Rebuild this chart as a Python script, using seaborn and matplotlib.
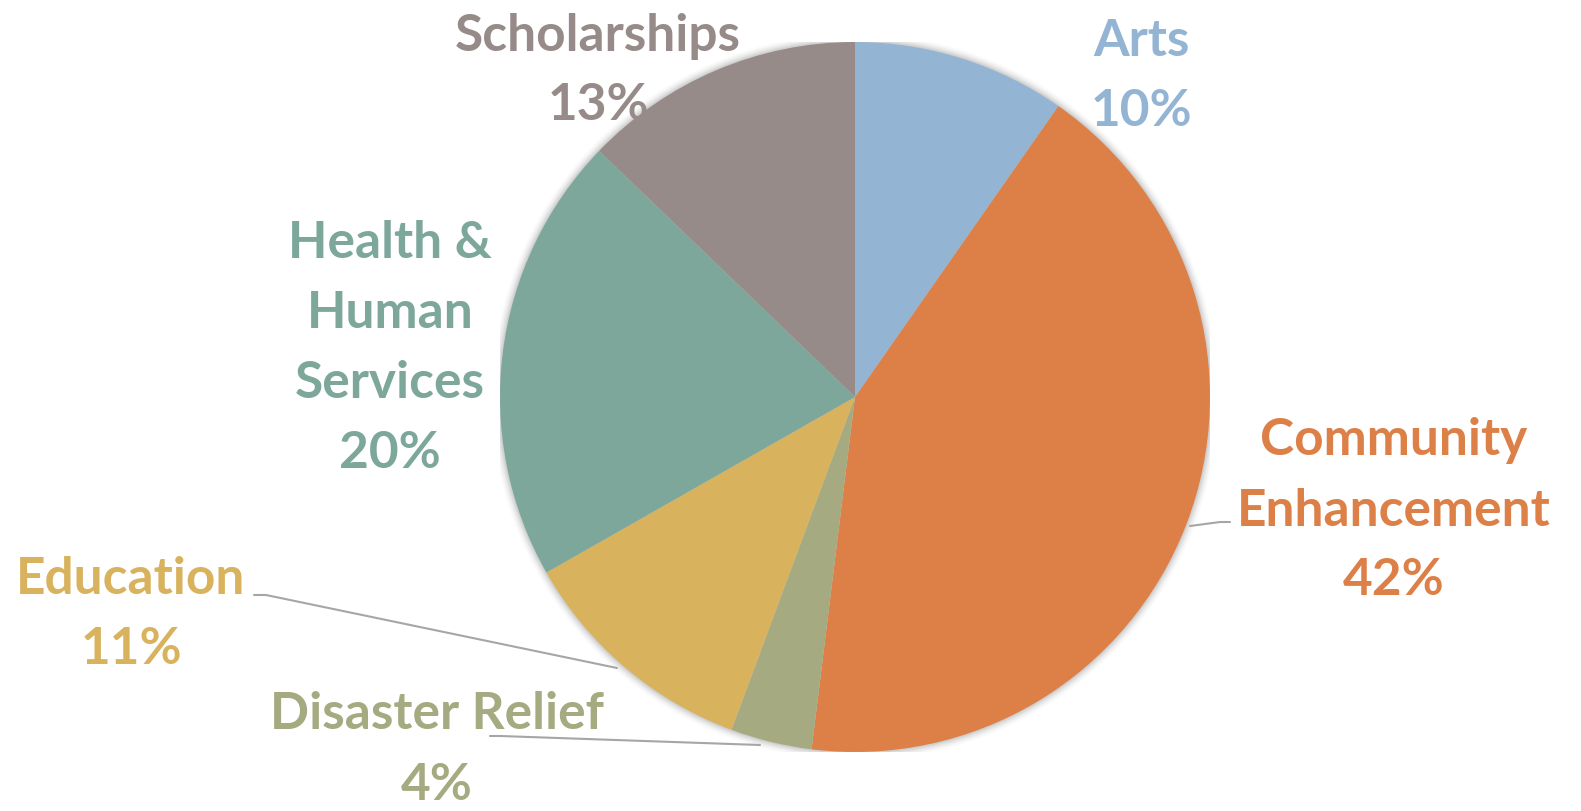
import numpy as np
import matplotlib
matplotlib.use("Agg")
import matplotlib.pyplot as plt
import seaborn as sns

# data (shares of giving, clockwise from 12 o'clock)
categories = ["Arts", "Community Enhancement", "Disaster Relief",
              "Education", "Health & Human Services", "Scholarships"]
shares = [9.7, 42.2, 3.7, 11.1, 20.4, 12.8]
label_lines = [["Arts"], ["Community", "Enhancement"], ["Disaster Relief"],
               ["Education"], ["Health &", "Human", "Services"], ["Scholarships"]]
colors = ["#93B5D3", "#DD8048", "#A5AA80", "#D8B25D", "#7DA79B", "#968B89"]

sns.set_theme(style="white")
plt.rcParams["font.family"] = ["Lato", "DejaVu Sans"]

W, H = 1581, 812
cx, cy, r = 855, 398, 355   # pie center / radius in pixels

fig = plt.figure(figsize=(W / 100, H / 100), dpi=100)
ax = fig.add_axes([(cx - r) / W, (H - cy - r) / H, 2 * r / W, 2 * r / H])
ax.axis("off")


def px(x, y):
    # pixel position -> data coords of the pie axes
    return (x - cx) / r, (cy - y) / r


# soft shadow around the pie
for i, a in enumerate(np.linspace(0.05, 0.01, 6)):
    ax.add_patch(plt.Circle((0, 0), 1 + 0.004 * (i + 1), color="#000000",
                            alpha=a, lw=0, zorder=0))

ax.pie(shares, colors=colors, startangle=90, counterclock=False, radius=1,
       wedgeprops=dict(linewidth=0), center=(0, 0), frame=False)
ax.set_xlim(-1, 1)
ax.set_ylim(-1, 1)
ax.set_aspect("auto")

total = sum(shares)
pcts = [f"{round(v / total * 100):.0f}%" for v in shares]

# label anchor (center of first line) in pixels, and line spacing
label_pos = [(1141, 41), (1394, 441), (437, 715), (131, 580), (390, 244), (598, 36)]
line_gap = 70

for lines, pct, col, (lx, ly) in zip(label_lines, pcts, colors, label_pos):
    for k, t in enumerate(lines + [pct]):
        x, y = px(lx, ly + k * line_gap)
        ax.text(x, y, t, color=col, fontsize=37, fontweight="bold",
                ha="center", va="center", clip_on=False)

# leader lines
leaders = [
    [(1190, 527), (1220, 523), (1230, 523)],
    [(617, 669), (266, 596), (254, 596)],
    [(760, 746), (500, 737), (490, 737)],
]
for pts in leaders:
    xs, ys = zip(*[px(x, y) for x, y in pts])
    ax.plot(xs, ys, color="#A6A6A6", lw=1.5, clip_on=False, zorder=3)

fig.savefig("out.png", dpi=100, facecolor="white")
